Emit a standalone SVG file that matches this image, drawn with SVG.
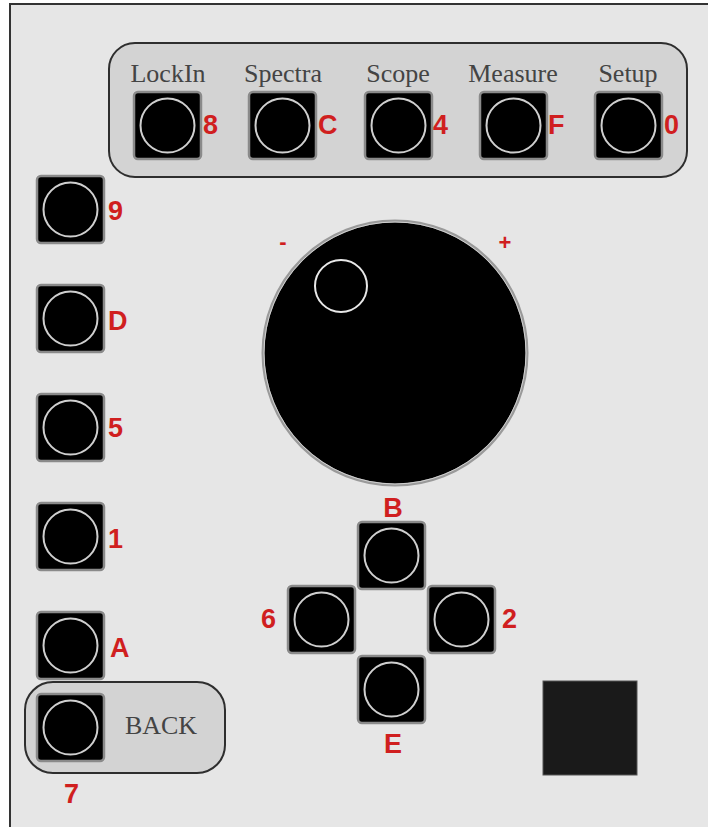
<svg xmlns="http://www.w3.org/2000/svg" xmlns:xlink="http://www.w3.org/1999/xlink" width="708" height="827" viewBox="0 0 708 827">
<style>
.bg{fill:#e6e6e6;stroke:#333;stroke-width:2}
.panel{fill:#d3d3d3;stroke:#2e2e2e;stroke-width:2}
.btn{fill:#000;stroke:#8a8a8a;stroke-width:2.5}
.ring{fill:none;stroke:#cfcfcf;stroke-width:2}
.cap{font-family:"Liberation Serif","Times New Roman",serif;font-size:26px;fill:#444;text-anchor:middle}
.key{font-family:"Liberation Sans",Arial,sans-serif;font-size:27px;font-weight:bold;fill:#d01f1f}
.sign{font-family:"Liberation Sans",Arial,sans-serif;font-size:22px;font-weight:bold;fill:#d01f1f;text-anchor:middle}
</style>
<defs>
<g id="button">
<rect class="btn" x="0" y="0" width="67" height="67" rx="4"/>
<circle class="ring" cx="33.5" cy="33.5" r="27"/>
</g>
</defs>
<rect x="0" y="0" width="708" height="827" fill="#ffffff"/>
<rect class="bg" x="10" y="4" width="720" height="840"/>

<g id="top-panel">
<rect class="panel" x="109" y="43" width="578" height="134" rx="26"/>
</g>

<g id="lockin">
<text class="cap" x="168" y="82">LockIn</text>
<use xlink:href="#button" x="134" y="92"/>
<text class="key" x="203" y="134">8</text>
</g>
<g id="spectra">
<text class="cap" x="283" y="82">Spectra</text>
<use xlink:href="#button" x="249" y="92"/>
<text class="key" x="318" y="134">C</text>
</g>
<g id="scope">
<text class="cap" x="398" y="82">Scope</text>
<use xlink:href="#button" x="365" y="92"/>
<text class="key" x="433" y="134">4</text>
</g>
<g id="measure">
<text class="cap" x="513" y="82">Measure</text>
<use xlink:href="#button" x="480" y="92"/>
<text class="key" x="548" y="134">F</text>
</g>
<g id="setup">
<text class="cap" x="628" y="82">Setup</text>
<use xlink:href="#button" x="595" y="92"/>
<text class="key" x="664" y="134">0</text>
</g>

<g id="key-9">
<use xlink:href="#button" x="37" y="176"/>
<text class="key" x="108" y="220">9</text>
</g>
<g id="key-D">
<use xlink:href="#button" x="37" y="285"/>
<text class="key" x="108" y="330">D</text>
</g>
<g id="key-5">
<use xlink:href="#button" x="37" y="394"/>
<text class="key" x="108" y="437">5</text>
</g>
<g id="key-1">
<use xlink:href="#button" x="37" y="503"/>
<text class="key" x="108" y="548">1</text>
</g>
<g id="key-A">
<use xlink:href="#button" x="37" y="612"/>
<text class="key" x="110" y="657">A</text>
</g>

<g id="back">
<rect class="panel" x="25" y="682" width="200" height="91" rx="28"/>
<use xlink:href="#button" x="37" y="694"/>
<text class="cap" x="161" y="734">BACK</text>
<text class="key" x="64" y="803">7</text>
</g>

<g id="knob">
<circle cx="395" cy="353" r="132" fill="#000" stroke="#9a9a9a" stroke-width="3"/>
<circle cx="395" cy="353" r="131" fill="none" stroke="#e0e0e0" stroke-width="0.8"/>
<circle cx="341" cy="286" r="26" fill="none" stroke="#e8e8e8" stroke-width="2"/>
<text class="sign" x="283" y="249">-</text>
<text class="sign" x="505" y="250">+</text>
</g>

<g id="key-B">
<text class="key" x="393" y="517" text-anchor="middle">B</text>
<use xlink:href="#button" x="358" y="522"/>
</g>
<g id="key-6">
<use xlink:href="#button" x="288" y="586"/>
<text class="key" x="261" y="628">6</text>
</g>
<g id="key-2">
<use xlink:href="#button" x="428" y="586"/>
<text class="key" x="502" y="628">2</text>
</g>
<g id="key-E">
<use xlink:href="#button" x="358" y="656"/>
<text class="key" x="393" y="753" text-anchor="middle">E</text>
</g>

<g id="display">
<rect x="543" y="681" width="94" height="94" fill="#1a1a1a" stroke="#555" stroke-width="1"/>
</g>

<g id="connectors"></g>
</svg>
